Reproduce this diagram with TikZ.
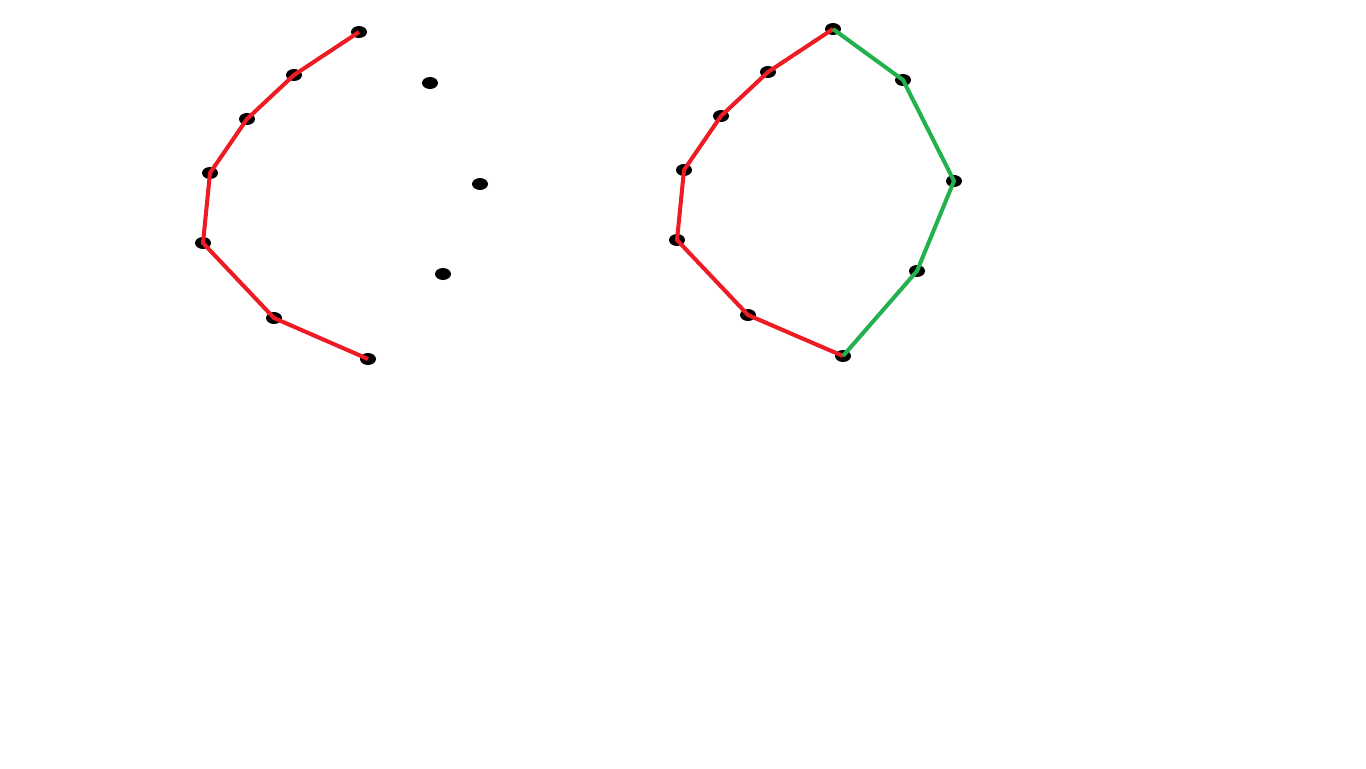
\documentclass[tikz,border=0pt]{standalone}
\usepackage{xcolor}
\usepackage{tikz}
\definecolor{paintred}{RGB}{237,28,36}
\definecolor{paintgreen}{RGB}{34,177,76}

\begin{document}
\begin{tikzpicture}[x=0.02cm,y=-0.02cm]
    \useasboundingbox (0,0) rectangle (1366,768);
        % left: open chain and loose points
        \foreach \n/\x/\y in {a1/359/32,a2/294/75,a3/247/119,a4/210/173,a5/203/243,a6/274/318,a7/368/359,b1/430/83,b2/480/184,b3/443/274}
            \coordinate (\n) at (\x,\y);
        % right: closed hull
        \foreach \n/\x/\y in {c1/833/29,c2/768/72,c3/721/116,c4/684/170,c5/677/240,c6/748/315,c7/843/356,d1/903/80,d2/954/181,d3/917/271}
            \coordinate (\n) at (\x,\y);
        \foreach \n in {a1,a2,a3,a4,a5,a6,a7,b1,b2,b3,c1,c2,c3,c4,c5,c6,c7,d1,d2,d3}
            \fill[black] (\n) ellipse [x radius=8, y radius=6];
        \draw[line width=2.3pt,paintred](a1)--(a2)--(a3)--(a4)--(a5)--(a6)--(a7);
        \draw[line width=2.3pt,paintred](c1)--(c2)--(c3)--(c4)--(c5)--(c6)--(c7);
        \draw[line width=2.3pt,paintgreen](c1)--(d1)--(d2)--(d3)--(c7);
    \end{tikzpicture}
\end{document}
